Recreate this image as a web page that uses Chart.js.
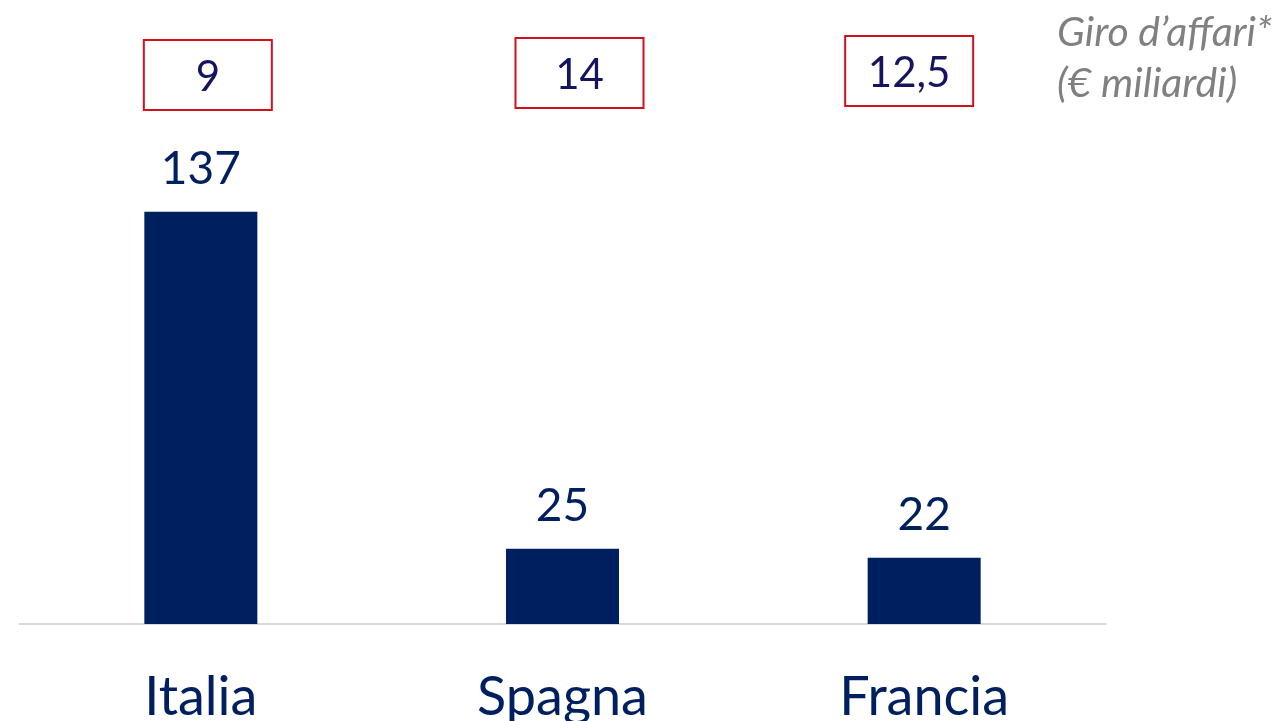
<!DOCTYPE html>
<html>
<head>
<meta charset="utf-8">
<script src="https://cdn.jsdelivr.net/npm/chart.js@4"></script>
<style>
  html, body { margin: 0; padding: 0; background: #fff; }
  #wrap { width: 1284px; height: 721px; position: relative; }
</style>
</head>
<body>
<div id="wrap"><canvas id="chart"></canvas></div>
<script>
const countries = ['Italia', 'Spagna', 'Francia'];
const values = [137, 25, 22];
const turnover = ['9', '14', '12,5'];

const FONT = '"Source Sans Pro", Lato, "Noto Sans", sans-serif';
const NAVY = '#001f5f';

// number above each bar, country name below the axis, red turnover box at the top
const labelsPlugin = {
    id: 'labels',
    afterDatasetsDraw(chart) {
        const ctx = chart.ctx;
        const xScale = chart.scales.x;
        const meta = chart.getDatasetMeta(0);
        const boxShift = [7, 17, -15];
        const boxTop = [40, 38, 36];
        ctx.save();
        ctx.textAlign = 'center';
        meta.data.forEach((bar, i) => {
            ctx.fillStyle = NAVY;
            ctx.font = '46px ' + FONT;
            ctx.textBaseline = 'alphabetic';
            ctx.fillText(values[i], bar.x, bar.y - 28);

            ctx.font = '54px ' + FONT;
            ctx.fillText(countries[i], xScale.getPixelForValue(i), xScale.bottom + 91);

            const cx = bar.x + boxShift[i];
            ctx.strokeStyle = '#d0111b';
            ctx.lineWidth = 2;
            ctx.strokeRect(cx - 64, boxTop[i], 128, 70);
            ctx.fillStyle = '#14155e';
            ctx.font = '42px ' + FONT;
            ctx.textBaseline = 'middle';
            ctx.fillText(turnover[i], cx, boxTop[i] + 37);
        });
        ctx.fillStyle = '#808080';
        ctx.font = 'italic 41px ' + FONT;
        ctx.textAlign = 'left';
        ctx.textBaseline = 'alphabetic';
        ctx.fillText('Giro d\u2019affari*', 1057, 46);
        ctx.fillText('(\u20ac miliardi)', 1057, 97);
        ctx.restore();
    }
};

new Chart(document.getElementById('chart'), {
    type: 'bar',
    data: {
        labels: countries,
        datasets: [{
            data: values,
            backgroundColor: NAVY,
            categoryPercentage: 1,
            barPercentage: 0.3125
        }]
    },
    options: {
        responsive: true,
        maintainAspectRatio: false,
        animation: false,
        layout: { padding: { left: 20, right: 179, top: 22, bottom: 97 } },
        plugins: { legend: { display: false }, tooltip: { enabled: false } },
        scales: {
            x: {
                grid: { display: false, drawTicks: false },
                border: { display: true, color: '#d9d9d9', width: 2 },
                ticks: { display: false }
            },
            y: {
                display: false,
                min: 0,
                max: 200
            }
        }
    },
    plugins: [labelsPlugin]
});
</script>
</body>
</html>
